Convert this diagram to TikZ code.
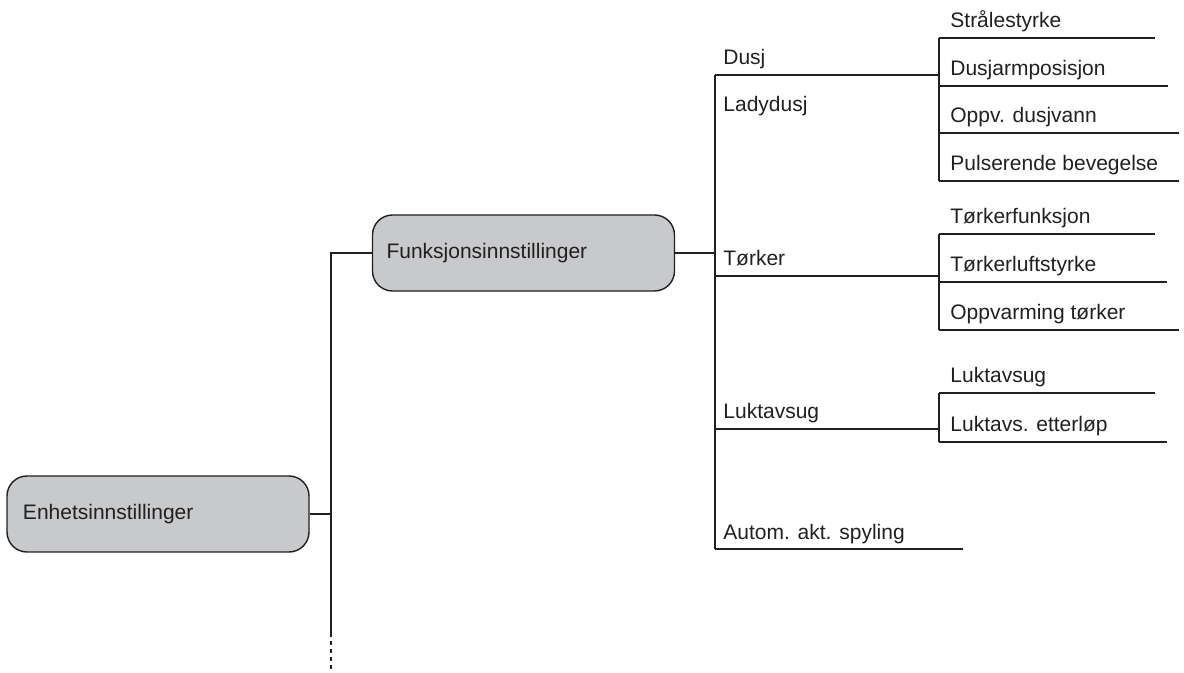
\documentclass[tikz,border=0pt]{standalone}
\usepackage{fontspec}
\setmainfont{Liberation Sans}
\usetikzlibrary{positioning}
\definecolor{menuink}{HTML}{231F20}
\definecolor{menugrey}{HTML}{C8C9CB}
\tikzset{
  % grey rounded menu box
  menubox/.style={draw=menuink, fill=menugrey, rounded corners=10pt, line width=0.7pt,
    minimum height=38pt, text width=135pt, inner xsep=8pt, align=left,
    font=\fontsize{10.5}{12.6}\selectfont, text=menuink},
  % menu entry text
  item/.style={anchor=base west, inner sep=0pt, font=\fontsize{10.5}{12.6}\selectfont,
    text=menuink},
  % tree lines
  tree/.style={draw=menuink, line width=0.7pt},
  treecont/.style={tree, dash pattern=on 2pt off 2pt},
}
\begin{document}
\begin{tikzpicture}[x=0.5pt, y=-0.5pt]
  \useasboundingbox (0,0) rectangle (1184,673);
  % top level
  \node[menubox] (enh) at (158,514) {Enhetsinnstillinger};
  \coordinate (r0top) at (331,252);
  \coordinate (r0bot) at (331,637);
  \coordinate (r0end) at (331,673);
  \draw[tree] (r0top) -- (r0bot);
  \draw[treecont] ([yshift=-2pt]r0bot) -- (r0end);
  \draw[tree] (enh.east) -- (enh.east -| r0top);
  % Funksjonsinnstillinger
  \node[menubox, inner xsep=7pt, text width=137pt] (funk) at (523.5,253) {Funksjonsinnstillinger};
  \draw[tree] (funk.west -| r0top) -- (funk.west);
  \coordinate (r1top) at (715,75);
  \coordinate (r1bot) at (715,549);
  \draw[tree] (r1top) -- (r1bot);
  \draw[tree] (funk.east) -- (funk.east -| r1top);
  % second level entries
  \foreach \y/\e/\n/\t in {75/939/dusj/Dusj, 276/939/torker/Tørker,
      429/939/lukt/Luktavsug, 549/963/autom/Autom. akt. spyling}{
    \node[item] (\n) at (723,\y-10) {\t};
    \coordinate (\n-a) at (715,\y);
    \coordinate (\n-b) at (\e,\y);
    \draw[tree] (\n-a) -- (\n-b);
  }
  \node[item] (lady) at (723,112) {Ladydusj};
  % third level: Dusj
  \coordinate (dtop) at (939,38);
  \coordinate (dbot) at (939,181);
  \draw[tree] (dtop) -- (dbot);
  \foreach \y/\e/\n/\t in {38/1155/stral/Strålestyrke, 86/1168/arm/Dusjarmposisjon,
      133/1179/vann/Oppv. dusjvann, 181/1179/puls/Pulserende bevegelse}{
    \node[item] (\n) at (950,\y-10) {\t};
    \coordinate (\n-b) at (\e,\y);
    \draw[tree] (\n-b -| dtop) -- (\n-b);
  }
  % third level: Tørker
  \coordinate (ttop) at (939,234);
  \coordinate (tbot) at (939,330);
  \draw[tree] (ttop) -- (tbot);
  \foreach \y/\e/\n/\t in {234/1155/tfunk/Tørkerfunksjon, 282/1167/tluft/Tørkerluftstyrke,
      330/1179/tvarm/Oppvarming tørker}{
    \node[item] (\n) at (950,\y-10) {\t};
    \coordinate (\n-b) at (\e,\y);
    \draw[tree] (\n-b -| ttop) -- (\n-b);
  }
  % third level: Luktavsug
  \coordinate (ltop) at (939,393);
  \coordinate (lbot) at (939,442);
  \draw[tree] (ltop) -- (lbot);
  \foreach \y/\e/\n/\t in {393/1155/lsug/Luktavsug, 442/1167/letter/Luktavs. etterløp}{
    \node[item] (\n) at (950,\y-10) {\t};
    \coordinate (\n-b) at (\e,\y);
    \draw[tree] (\n-b -| ltop) -- (\n-b);
  }
\end{tikzpicture}
\end{document}
